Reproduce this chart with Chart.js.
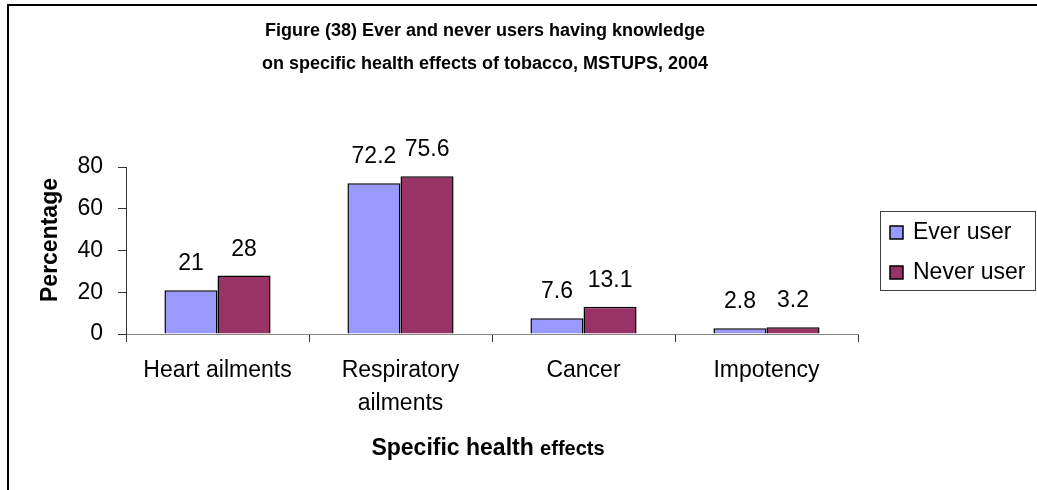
<!DOCTYPE html>
<html>
<head>
<meta charset="utf-8">
<title>Knowledge of health effects of tobacco</title>
<script src="https://cdn.jsdelivr.net/npm/chart.js@4.4.1/dist/chart.umd.min.js"></script>
<style>
    body { margin: 0; background: #fff; overflow: hidden; }
    #wrap { position: relative; width: 1037px; height: 490px; overflow: hidden; }
    #frame { position: absolute; left: 7px; top: 4px; width: 1100px; height: 600px; border-top: 2px solid #000; border-left: 2px solid #000; }
    #bar-chart { position: absolute; left: 0; top: 0; }
</style>
</head>
<body>
<div id="wrap">
    <div id="frame"></div>
    <canvas id="bar-chart" width="1037" height="490"></canvas>
</div>
<script>
const categories = ["Heart ailments", ["Respiratory", "ailments"], "Cancer", "Impotency"];
const everUser = [21, 72.2, 7.6, 2.8];
const neverUser = [28, 75.6, 13.1, 3.2];
const yTicks = [0, 20, 40, 60, 80];
const seriesNames = ["Ever user", "Never user"];
const seriesColors = ["#9999ff", "#993366"];
const titleLines = [
    "Figure (38) Ever and never users having knowledge",
    "on specific health effects of tobacco, MSTUPS, 2004",
];
const yTitle = "Percentage";
const xTitle = ["Specific health ", "effects"];

const FONT = "'Liberation Sans', Arial, sans-serif";

// titles, value labels and the legend box
const textPlugin = {
    id: "textPlugin",
    afterDraw(chart) {
        const ctx = chart.ctx;
        ctx.save();
        ctx.fillStyle = "#000";

        // values above bars
        ctx.font = "23px " + FONT;
        ctx.textAlign = "center";
        ctx.textBaseline = "alphabetic";
        chart.data.datasets.forEach((ds, i) => {
            chart.getDatasetMeta(i).data.forEach((bar, j) => {
                ctx.fillText(String(ds.data[j]), bar.x, bar.y - 20);
            });
        });

        // chart title
        ctx.font = "bold 18px " + FONT;
        ctx.textBaseline = "middle";
        ctx.fillText(titleLines[0], 485, 31);
        ctx.fillText(titleLines[1], 485, 64);

        // x axis title, second word is smaller
        ctx.textAlign = "left";
        ctx.textBaseline = "alphabetic";
        ctx.font = "bold 23px " + FONT;
        const w1 = ctx.measureText(xTitle[0]).width;
        ctx.font = "bold 20px " + FONT;
        const w2 = ctx.measureText(xTitle[1]).width;
        let x0 = 488 - (w1 + w2) / 2;
        ctx.font = "bold 23px " + FONT;
        ctx.fillText(xTitle[0], x0, 455);
        ctx.font = "bold 20px " + FONT;
        ctx.fillText(xTitle[1], x0 + w1, 455);

        // y axis title
        ctx.save();
        ctx.translate(51, 240);
        ctx.rotate(-Math.PI / 2);
        ctx.font = "bold 23px " + FONT;
        ctx.textAlign = "center";
        ctx.textBaseline = "middle";
        ctx.fillText(yTitle, 0, 0);
        ctx.restore();

        // legend
        ctx.strokeStyle = "#404040";
        ctx.lineWidth = 1;
        ctx.strokeRect(880.5, 211.5, 155, 79);
        ctx.font = "23px " + FONT;
        chart.data.datasets.forEach((ds, i) => {
            const y = 226 + i * 40;
            ctx.fillStyle = ds.backgroundColor;
            ctx.fillRect(890, y, 13, 13);
            ctx.strokeStyle = "#000";
            ctx.lineWidth = 1.5;
            ctx.strokeRect(890, y, 13, 13);
            ctx.fillStyle = "#000";
            ctx.fillText(ds.label, 913, y + 13);
        });

        ctx.restore();
    },
};

new Chart(document.getElementById("bar-chart"), {
    type: "bar",
    data: {
        labels: categories,
        datasets: [
            {
                label: seriesNames[0],
                data: everUser,
                backgroundColor: seriesColors[0],
                borderColor: "#000",
                borderWidth: 1.5,
                categoryPercentage: 0.58,
                barPercentage: 1.0,
            },
            {
                label: seriesNames[1],
                data: neverUser,
                backgroundColor: seriesColors[1],
                borderColor: "#000",
                borderWidth: 1.5,
                categoryPercentage: 0.58,
                barPercentage: 1.0,
            },
        ],
    },
    options: {
        responsive: false,
        animation: false,
        devicePixelRatio: 1,
        layout: { padding: { left: 0, right: 179, top: 167, bottom: 0 } },
        plugins: {
            legend: { display: false },
            tooltip: { enabled: false },
            title: { display: false },
        },
        scales: {
            x: {
                grid: { drawOnChartArea: false, drawTicks: true, tickLength: 8, color: "#333", offset: true },
                border: { color: "#888", width: 1 },
                ticks: {
                    color: "#000",
                    font: { family: FONT, size: 23, lineHeight: 1.43 },
                    padding: 12,
                    maxRotation: 0,
                    autoSkip: false,
                },
                afterFit: (scale) => { scale.height = 156; },
            },
            y: {
                min: yTicks[0],
                max: yTicks[yTicks.length - 1],
                grid: { drawOnChartArea: false, drawTicks: true, tickLength: 8, color: "#333" },
                border: { color: "#333", width: 1 },
                ticks: {
                    stepSize: yTicks[1] - yTicks[0],
                    color: "#000",
                    font: { family: FONT, size: 23 },
                    padding: 15,
                },
                afterFit: (scale) => { scale.width = 126; },
            },
        },
    },
    plugins: [textPlugin],
});
</script>
</body>
</html>
